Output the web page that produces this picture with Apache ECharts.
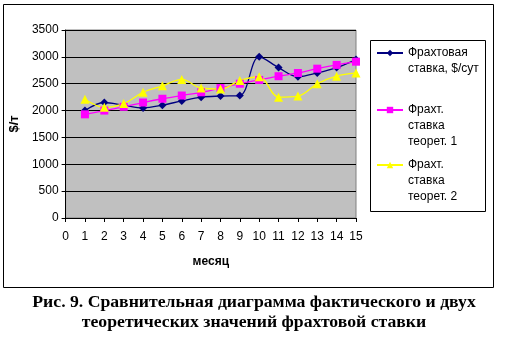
<!DOCTYPE html>
<html>
<head>
<meta charset="utf-8">
<script src="https://cdn.jsdelivr.net/npm/echarts@6/dist/echarts.min.js"></script>
<style>
  html, body { margin: 0; padding: 0; background: #fff; }
  #chart { width: 508px; height: 354px; }
</style>
</head>
<body>
<div id="chart"></div>
<script>
// месяцы
const months = [1, 2, 3, 4, 5, 6, 7, 8, 9, 10, 11, 12, 13, 14, 15]
// фактическая ставка
const actual = [2000, 2150, 2100, 2050, 2100, 2180, 2250, 2270, 2280, 3000, 2800, 2630, 2700, 2800, 2950]
// теоретическая 1
const theor1 = [1930, 2000, 2070, 2150, 2220, 2280, 2340, 2420, 2500, 2570, 2640, 2700, 2780, 2850, 2910]
// теоретическая 2
const theor2 = [2210, 2060, 2130, 2340, 2460, 2580, 2420, 2400, 2560, 2630, 2250, 2270, 2500, 2640, 2700]

const seriesNames = ['Фрахтовая\nставка, $/сут', 'Фрахт.\nставка\nтеорет. 1', 'Фрахт.\nставка\nтеорет. 2']

const captionLines = [
  'Рис. 9. Сравнительная диаграмма фактического и двух',
  'теоретических значений фрахтовой ставки'
]

const pairs = (vals) => months.map((m, i) => [m, vals[i]])

const myChart = echarts.init(document.getElementById('chart'))

const labelFont = { fontFamily: 'Liberation Sans, Arial', fontSize: 12, color: '#000' }

// по легенде на серию; пустые строки сверху, чтобы значок стоял у первой строки
const legendIconY = [53, 110, 165]
const makeLegend = (name, i) => {
  const lines = name.split('\n').length
  const total = lines * 2 - 1
  return {
    orient: 'vertical',
    left: 376,
    top: legendIconY[i] - total * 8,
    padding: 0,
    itemWidth: 26,
    itemHeight: 8,
    data: [name],
    formatter: (n) => ' \n'.repeat(lines - 1) + n,
    textStyle: {
      fontFamily: 'Liberation Sans, Arial',
      fontSize: 12,
      color: '#000',
      lineHeight: 16
    }
  }
}

const option = {
  backgroundColor: '#fff',
  animation: false,
  grid: {
    left: 65,
    right: 152,
    top: 30,
    bottom: 136,
    show: true,
    backgroundColor: '#c0c0c0',
    borderColor: '#808080',
    borderWidth: 1
  },
  legend: seriesNames.map(makeLegend),
  xAxis: {
    type: 'value',
    min: 0,
    max: 15,
    interval: 1,
    name: 'месяц',
    nameLocation: 'middle',
    nameGap: 38,
    nameTextStyle: { fontFamily: 'Liberation Sans, Arial', fontSize: 12, fontWeight: 'bold', color: '#000' },
    axisLine: { lineStyle: { color: '#000' } },
    axisTick: { inside: false, length: 4, lineStyle: { color: '#000' } },
    axisLabel: { ...labelFont, margin: 13 },
    splitLine: { show: false }
  },
  yAxis: {
    type: 'value',
    min: 0,
    max: 3500,
    interval: 500,
    name: '$/т',
    nameLocation: 'middle',
    nameGap: 39,
    nameTextStyle: { fontFamily: 'Liberation Sans, Arial', fontSize: 13, fontWeight: 'bold', color: '#000' },
    axisLine: { show: true, lineStyle: { color: '#000' } },
    axisTick: { show: true, length: 4, lineStyle: { color: '#000' } },
    axisLabel: { ...labelFont, margin: 7, formatter: (v) => String(v) },
    splitLine: { show: true, lineStyle: { color: '#000', width: 1 } }
  },
  series: [
    {
      name: seriesNames[0],
      type: 'line',
      smooth: 0.35,
      color: '#000080',
      symbol: 'diamond',
      symbolSize: 8,
      lineStyle: { width: 1.3 },
      data: pairs(actual)
    },
    {
      name: seriesNames[1],
      type: 'line',
      smooth: 0.35,
      color: '#ff00ff',
      symbol: 'rect',
      symbolSize: 8,
      lineStyle: { width: 1.3 },
      data: pairs(theor1)
    },
    {
      name: seriesNames[2],
      type: 'line',
      smooth: 0.35,
      color: '#ffff00',
      symbol: 'triangle',
      symbolSize: 9,
      lineStyle: { width: 1.3 },
      data: pairs(theor2)
    }
  ],
  graphic: [
    {
      type: 'rect',
      shape: { x: 3.5, y: 4.5, width: 490, height: 283 },
      style: { fill: 'none', stroke: '#000', lineWidth: 1 },
      silent: true
    },
    {
      // рамка легенды
      type: 'rect',
      shape: { x: 370.5, y: 40.5, width: 115, height: 171 },
      style: { fill: 'none', stroke: '#000', lineWidth: 1 },
      silent: true
    },
    ...captionLines.map((t, i) => ({
      type: 'text',
      left: 'center',
      top: 293 + i * 20,
      style: {
        text: t,
        font: 'bold 17.7px "Liberation Serif", "Times New Roman"',
        fill: '#000'
      }
    }))
  ]
}

myChart.setOption(option)
window.addEventListener('resize', myChart.resize)
</script>
</body>
</html>
